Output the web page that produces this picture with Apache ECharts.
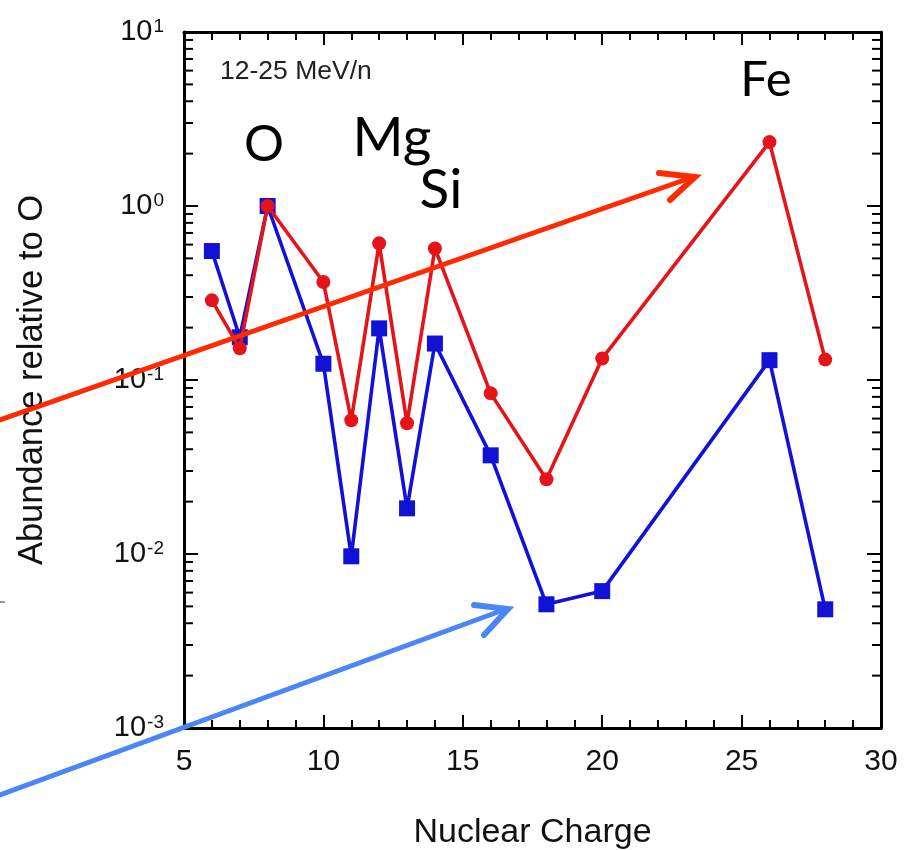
<!DOCTYPE html>
<html>
<head>
<meta charset="utf-8">
<script src="https://cdn.jsdelivr.net/npm/echarts@6/dist/echarts.min.js"></script>
<style>
  html, body { margin: 0; padding: 0; background: #fff; }
  #chart { width: 917px; height: 850px; }
</style>
</head>
<body>
<div id="chart"></div>
<script>
// Nuclear charge Z of each measured element
const charges = [6, 7, 8, 10, 11, 12, 13, 14, 16, 18, 20, 26, 28];
// Abundances relative to O, 12-25 MeV/n
const feRich = [0.287, 0.152, 1.0, 0.366, 0.0587, 0.61, 0.0564, 0.57, 0.0838, 0.0269, 0.133, 2.33, 0.131];
const fePoor = [0.551, 0.176, 1.0, 0.124, 0.0097, 0.198, 0.0183, 0.162, 0.0369, 0.00514, 0.00612, 0.130, 0.00481];

// Axis ticks
const xTicks = [5, 10, 15, 20, 25, 30];
const yExponents = [-3, -2, -1, 0, 1];
const minorMultipliers = [2, 3, 4, 5, 6, 7, 8, 9];

const AXIS_FONT = '"Liberation Sans", Arial, Helvetica, sans-serif';
const LABEL_FONT = 'Lato, "Open Sans", sans-serif';

const xMin = xTicks[0];
const xMax = xTicks[xTicks.length - 1];
const yMin = Math.pow(10, yExponents[0]);
const yMax = Math.pow(10, yExponents[yExponents.length - 1]);

// Log-decade minor ticks (2..9 × 10^n)
const minorTickValues = [];
for (let i = 0; i < yExponents.length - 1; i++) {
  for (const m of minorMultipliers) minorTickValues.push(m * Math.pow(10, yExponents[i]));
}

const pairs = (xs, ys) => xs.map((x, i) => [x, ys[i]]);
const powerLabel = v => '{b|10}{s|' + Math.round(Math.log10(v)) + '}';

const frameLine = { onZero: false, lineStyle: { color: '#000', width: 3 } };
const tickStyle = { color: '#000', width: 2 };

const chart = echarts.init(document.getElementById('chart'));

const option = {
  backgroundColor: '#fff',
  animation: false,
  grid: { left: 184, right: 36, top: 32, bottom: 122, containLabel: false, outerBoundsMode: 'none' },
  xAxis: [
    {
      type: 'value', min: xMin, max: xMax, interval: 5, position: 'bottom',
      axisLine: frameLine,
      axisTick: { inside: true, length: 13, lineStyle: tickStyle },
      minorTick: { show: true, splitNumber: 5, length: 8, lineStyle: tickStyle },
      splitLine: { show: false },
      axisLabel: { color: '#111', fontSize: 30, fontFamily: AXIS_FONT, margin: 19 },
      name: 'Nuclear Charge', nameLocation: 'middle', nameGap: 88,
      nameTextStyle: { color: '#111', fontSize: 34, fontFamily: AXIS_FONT }
    },
    {
      type: 'value', min: xMin, max: xMax, interval: 5, position: 'top',
      axisLine: frameLine,
      axisTick: { inside: true, length: 13, lineStyle: tickStyle },
      minorTick: { show: true, splitNumber: 5, length: 8, lineStyle: tickStyle },
      splitLine: { show: false },
      axisLabel: { show: false }
    }
  ],
  yAxis: [
    {
      type: 'log', logBase: 10, min: yMin, max: yMax, position: 'left',
      axisLine: frameLine,
      axisTick: { inside: true, length: 14, lineStyle: tickStyle },
      splitLine: { show: false },
      axisLabel: {
        formatter: powerLabel, margin: 20,
        rich: {
          b: { color: '#111', fontSize: 29, fontFamily: AXIS_FONT, lineHeight: 30 },
          s: { color: '#111', fontSize: 19, fontFamily: AXIS_FONT, verticalAlign: 'top', lineHeight: 19, padding: [0, 0, 0, 1] }
        }
      },
      name: 'Abundance relative to O', nameLocation: 'middle', nameRotate: 90, nameGap: 134,
      nameTextStyle: { color: '#111', fontSize: 34.5, fontFamily: AXIS_FONT }
    },
    {
      type: 'log', logBase: 10, min: yMin, max: yMax, position: 'right',
      axisLine: frameLine,
      axisTick: { inside: true, length: 14, lineStyle: tickStyle },
      splitLine: { show: false },
      axisLabel: { show: false }
    }
  ],
  series: [
    {
      // minor ticks on the left and right frame edges
      type: 'custom', silent: true, clip: false, xAxisIndex: 0, yAxisIndex: 0,
      data: minorTickValues.map(v => [xMin, v]),
      renderItem: (params, api) => {
        const v = api.value(1);
        const l = api.coord([xMin, v]);
        const r = api.coord([xMax, v]);
        return {
          type: 'group',
          children: [
            { type: 'line', shape: { x1: l[0], y1: l[1], x2: l[0] + 9, y2: l[1] }, style: { stroke: '#000', lineWidth: 2 } },
            { type: 'line', shape: { x1: r[0], y1: r[1], x2: r[0] - 9, y2: r[1] }, style: { stroke: '#000', lineWidth: 2 } }
          ]
        };
      }
    },
    {
      name: 'Fe-poor', type: 'line', xAxisIndex: 0, yAxisIndex: 0,
      data: pairs(charges, fePoor),
      symbol: 'rect', symbolSize: 16,
      lineStyle: { color: '#1212d6', width: 3.6 },
      itemStyle: { color: '#1212d6' },
      z: 3
    },
    {
      name: 'Fe-rich', type: 'line', xAxisIndex: 0, yAxisIndex: 0,
      data: pairs(charges, feRich),
      symbol: 'circle', symbolSize: 14,
      lineStyle: { color: '#e5141a', width: 3.6 },
      itemStyle: { color: '#e5141a' },
      z: 4
    }
  ],
  graphic: [
    { type: 'text', x: 220, y: 72, z: 50,
      style: { text: '12-25 MeV/n', fill: '#222', fontSize: 26.5, fontFamily: AXIS_FONT,
               textAlign: 'left', textVerticalAlign: 'middle', align: 'left', verticalAlign: 'middle' } },
    { type: 'text', x: 264, y: 145, z: 50,
      style: { text: 'O', fill: '#000', fontSize: 50, fontFamily: LABEL_FONT,
               textAlign: 'center', textVerticalAlign: 'middle', align: 'center', verticalAlign: 'middle' } },
    { type: 'text', x: 392, y: 138, z: 50,
      style: { text: 'Mg', fill: '#000', fontSize: 55, fontFamily: LABEL_FONT,
               textAlign: 'center', textVerticalAlign: 'middle', align: 'center', verticalAlign: 'middle' } },
    { type: 'text', x: 441, y: 190, z: 50,
      style: { text: 'Si', fill: '#000', fontSize: 55, fontFamily: LABEL_FONT,
               textAlign: 'center', textVerticalAlign: 'middle', align: 'center', verticalAlign: 'middle' } },
    { type: 'text', x: 766, y: 80, z: 50,
      style: { text: 'Fe', fill: '#000', fontSize: 49, fontFamily: LABEL_FONT,
               textAlign: 'center', textVerticalAlign: 'middle', align: 'center', verticalAlign: 'middle' } },
    // red pointer
    { type: 'polyline', z: 100, shape: { points: [[0, 420], [693, 177]] },
      style: { stroke: '#ff2a00', lineWidth: 5, fill: null, lineCap: 'round' } },
    { type: 'polyline', z: 100, shape: { points: [[659, 173], [695, 177], [670, 200]] },
      style: { stroke: '#ff2a00', lineWidth: 6, fill: null, lineCap: 'round', lineJoin: 'miter' } },
    // blue pointer
    { type: 'polyline', z: 100, shape: { points: [[0, 795], [506, 609]] },
      style: { stroke: '#4a86f5', lineWidth: 5, fill: null, lineCap: 'round' } },
    { type: 'polyline', z: 100, shape: { points: [[474, 605], [508, 609], [484, 635]] },
      style: { stroke: '#4a86f5', lineWidth: 6, fill: null, lineCap: 'round', lineJoin: 'miter' } },
    // small edge mark on the left margin
    { type: 'line', z: 100, shape: { x1: 0, y1: 602, x2: 5, y2: 602 },
      style: { stroke: '#333', lineWidth: 1 } }
  ]
};

chart.setOption(option);
</script>
</body>
</html>
